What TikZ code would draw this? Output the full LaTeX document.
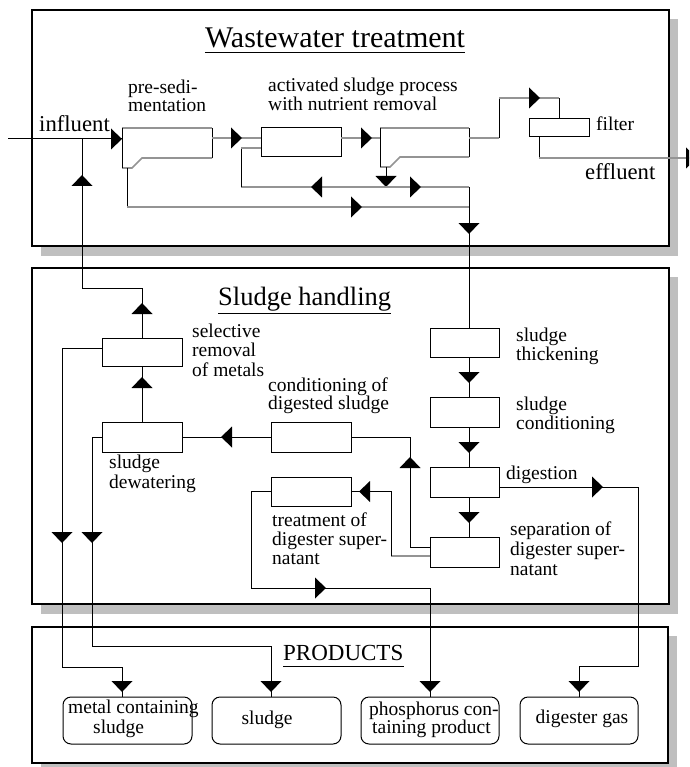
\documentclass[tikz,border=0pt]{standalone}
\usepackage{fontspec}
\setmainfont{Liberation Serif}
% multi-line label whose baseline is that of its first line
\newcommand\lines[2][19.5pt]{\vtop{\baselineskip=#1\lineskiplimit=-100pt\lineskip=0pt\halign{##\hfil\cr#2\crcr}}}
\tikzset{
  tri/.pic={\fill[black] (0,0) -- (-11,-10.5) -- (-11,10.5) -- cycle;},
  frame/.style={draw=black,line width=1.3pt,fill=white},
  panelshadow/.style={fill=black!25},
  unit/.style={draw=black,line width=1pt,fill=white,inner sep=0pt,outer sep=0pt,minimum width=80pt,minimum height=29pt},
  outline/.style={draw=none,inner sep=0pt,outer sep=0pt},
  prod/.style={draw=black,line width=1pt,rounded corners=8pt,inner sep=0pt,outer sep=0pt,minimum height=47pt},
  pipe/.style={draw=black,line width=1pt},
  gpipe/.style={draw=black!42,line width=1.6pt},
  lbl/.style={inner sep=0pt,anchor=base west,font=\fontsize{19.5}{19.5}\selectfont},
  biglbl/.style={lbl,font=\fontsize{22.7}{22.7}\selectfont},
  ttl/.style={inner sep=0pt,anchor=base west},
}
\begin{document}
\begin{tikzpicture}[x=1pt,y=-1pt]
\useasboundingbox (0,0) rectangle (689,767);
\clip (0,0) rectangle (689,767);

% ---------- panels with drop shadows ----------
\fill[panelshadow] (41,19) rectangle (678,256);
\fill[panelshadow] (41,277) rectangle (678,614);
\fill[panelshadow] (41,636) rectangle (677,773);
\path[frame] (32,10) rectangle (669,246);
\path[frame] (32,268) rectangle (669,604);
\path[frame] (32,627) rectangle (668,763);

% ---------- titles ----------
\node[ttl,anchor=base,font=\fontsize{30}{30}\selectfont] (wt) at (335,48) {Wastewater treatment};
\draw[pipe] ([yshift=-5pt]wt.base west) -- ([yshift=-5pt]wt.base east);
\node[ttl,font=\fontsize{26.5}{26.5}\selectfont] (sh) at (218,305) {Sludge handling};
\draw[pipe] ([yshift=-8pt]sh.base west) -- ([yshift=-8pt]sh.base east);
\node[ttl,font=\fontsize{23}{23}\selectfont] (pr) at (283,660) {PRODUCTS};
\draw[pipe] ([yshift=-6pt]pr.base west) -- ([yshift=-6pt]pr.base east);

% ---------- process units ----------
\node[outline,minimum width=90pt,minimum height=30pt] (presed) at (167,143) {};
\node[unit] (act) at (301,142.5) {};
\node[outline,minimum width=89pt,minimum height=29pt] (clar) at (424.5,142.5) {};
\node[unit,minimum width=60pt,minimum height=18pt] (filt) at (559,128) {};
\node[unit,minimum width=69pt] (thick) at (464.5,342.5) {};
\node[unit,minimum width=69pt,minimum height=30pt] (cond) at (464.5,412) {};
\node[unit,minimum width=69pt,minimum height=30pt] (dig) at (464.5,482) {};
\node[unit,minimum width=69pt,minimum height=30pt] (sep) at (464.5,552) {};
\node[unit,minimum height=30pt] (cd) at (311,437) {};
\node[unit] (treat) at (311,491.5) {};
\node[unit,minimum height=30pt] (dew) at (142,437) {};
\node[unit,minimum height=28pt] (sel) at (142,352) {};

% products
\node[prod,minimum width=129pt] (metal) at (127.5,720.5) {};
\node[prod,minimum width=129pt] (sl) at (276.5,720.5) {};
\node[prod,minimum width=138pt] (phos) at (430,720.5) {};
\node[prod,minimum width=118pt] (gas) at (579,720.5) {};

% settling tanks (pre-sedimentation and final clarifier)
\draw[gpipe] (presed.north west) -- (presed.north east);
\draw[pipe] (presed.north east) -- (presed.south east);
\draw[gpipe] (presed.south east) -- ++(-70,0) -- ++(-10,10) -- ++(-10,0);
\draw[pipe] (presed.north west) -- ++(0,40);
\draw[gpipe] (clar.north west) -- (clar.north east);
\draw[pipe] (clar.north east) -- (clar.south east);
\draw[gpipe] (clar.south east) -- ++(-69,0) -- ++(-10,10) -- ++(-10,0);
\draw[pipe] (clar.north west) -- ++(0,39);

% ---------- water line ----------
\coordinate (inlet) at (8,139);
\coordinate (colx) at (469,0);
\draw[pipe] (inlet) -- (inlet -| presed.west);
\pic at (inlet -| presed.west) {tri};

\draw[gpipe] ([yshift=5pt]presed.east) -- ([yshift=4.5pt]act.west);
\pic at (242,138) {tri};
\draw[gpipe] ([yshift=4.5pt]act.east) -- ([yshift=4.5pt]clar.west);
\pic at (372,138) {tri};

\draw[gpipe] ([yshift=4.5pt]clar.east) -- (499,138);
\draw[pipe] (499,138) -- (499,98);
\draw[gpipe] (499,98) -- (559,98);
\draw[pipe] (559,98) -- (filt.north);
\pic at (540,98) {tri};

\coordinate (outlet) at (700,158);
\draw[pipe] ([xshift=-20pt]filt.south) -- (539,158);
\draw[gpipe] (539,158) -- (outlet);
\pic at (697,158) {tri};

% return and excess sludge
\coordinate (rasdrop) at (386,167);
\draw[pipe] (rasdrop) -- (386,187);
\pic[rotate=-90] at (386,187) {tri};
\draw[gpipe] (469,187) -- (241,187);
\draw[pipe] (241,187) -- (241,148);
\draw[gpipe] (241,148) -- ([yshift=-5.5pt]act.west);
\pic[rotate=180] at (311,187) {tri};
\pic at (421,187) {tri};

\draw[pipe] (127,168) -- (127,207);
\draw[gpipe] (127,207) -- (469,207);
\pic at (362,207) {tri};

\draw[pipe] (469,187) -- (thick.north -| colx);
\pic[rotate=-90] at (469,234) {tri};

% ---------- sludge line ----------
\draw[pipe] (thick.south -| colx) -- (cond.north -| colx);
\pic[rotate=-90] at (469,383) {tri};
\draw[pipe] (cond.south -| colx) -- (dig.north -| colx);
\pic[rotate=-90] at (469,453) {tri};
\draw[pipe] (dig.south -| colx) -- (sep.north -| colx);
\pic[rotate=-90] at (469,523) {tri};

% digester gas
\draw[pipe] ([yshift=-5pt]dig.east) -| (638,666) -| (gas.north);
\pic at (603,487) {tri};
\pic[rotate=-90] at (579,692) {tri};

% digested sludge to conditioning and dewatering
\draw[pipe] ([yshift=5pt]sep.west) -| (410,437) -- (cd.east);
\pic[rotate=90] at (410,457) {tri};
\draw[pipe] (cd.west) -- (dew.east);
\pic[rotate=180] at (221,437) {tri};

% supernatant treatment
\draw[gpipe] ([yshift=-4pt]sep.west) -- (391,556);
\draw[pipe] (391,556) |- (treat.east);
\pic[rotate=180] at (359,491.5) {tri};
\draw[pipe] (treat.west) -| (251,588) -| (phos.north);
\pic at (326,588) {tri};
\pic[rotate=-90] at (430,692) {tri};

% dewatering, metal removal, return to influent
\draw[pipe] (dew.north) -- (sel.south);
\pic[rotate=90] at (142,377) {tri};
\draw[pipe] (sel.north) |- (82,288) -- (inlet -| 82,0);
\pic[rotate=90] at (142,303) {tri};
\pic[rotate=90] at (82,175) {tri};

\draw[pipe] ([yshift=4pt]sel.west) -| (62,667) -| ([xshift=-5.5pt]metal.north);
\pic[rotate=-90] at (62,543) {tri};
\pic[rotate=-90] at (122,692) {tri};
\draw[pipe] (dew.west) -| (92,646) -| ([xshift=-5.5pt]sl.north);
\pic[rotate=-90] at (92,543) {tri};
\pic[rotate=-90] at (271,692) {tri};

% ---------- labels ----------
\node[biglbl] (t-in) at (39,132) {influent};
\node[lbl] (t-ps) at (128,94) {\lines[17.5pt]{pre-sedi-\cr mentation}};
\node[lbl] (t-as) at (268,92) {\lines[19pt]{activated sludge process\cr with nutrient removal}};
\node[lbl] (t-fi) at (596,131) {filter};
\node[biglbl] (t-ef) at (585,180) {effluent};
\node[lbl] (t-se) at (192,337) {\lines[19.5pt]{selective\cr removal\cr of metals}};
\node[lbl] (t-dw) at (109,468) {\lines[20pt]{sludge\cr dewatering}};
\node[lbl] (t-cd) at (268,391) {\lines[18pt]{conditioning of\cr digested sludge}};
\node[lbl] (t-tr) at (272,526) {\lines[19pt]{treatment of\cr digester super-\cr natant}};
\node[lbl] (t-th) at (516,341) {\lines[19pt]{sludge\cr thickening}};
\node[lbl] (t-co) at (516,410) {\lines[19pt]{sludge\cr conditioning}};
\node[lbl] (t-di) at (506,479) {digestion};
\node[lbl] (t-sp) at (510,535) {\lines[20pt]{separation of\cr digester super-\cr natant}};

\node[lbl] (t-m1) at (68,713) {metal containing};
\node[lbl] (t-m2) at (93,733) {sludge};
\node[lbl,anchor=base] (t-sl) at (267,724) {sludge};
\node[lbl] (t-p1) at (369,715) {phosphorus con-};
\node[lbl] (t-p2) at (372,733) {taining product};
\node[lbl,anchor=base] (t-gs) at (582,723) {digester gas};
\end{tikzpicture}
\end{document}
